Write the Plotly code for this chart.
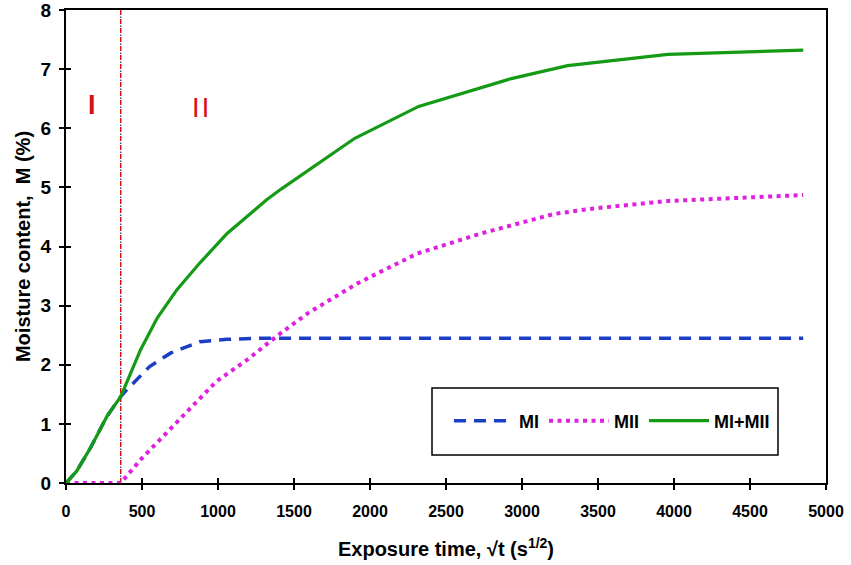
import plotly.graph_objects as go

# ---- data ----
mi_x = [0, 70, 160, 270, 360, 390, 550, 690, 880, 1060, 1300, 1550, 4850]
mi_y = [0, 0.20, 0.59, 1.13, 1.46, 1.55, 1.97, 2.20, 2.39, 2.43, 2.45, 2.45, 2.45]

mii_x = [0, 360, 500, 760, 990, 1190, 1390, 1590, 1920, 2310, 2730, 3210, 3460, 3960, 4850]
mii_y = [0, 0, 0.42, 1.10, 1.72, 2.08, 2.49, 2.87, 3.38, 3.88, 4.22, 4.55, 4.64, 4.77, 4.87]

tot_x = [0, 70, 160, 270, 360, 490, 600, 730, 880, 1060, 1320, 1420, 1900, 2320, 2930, 3300, 3960, 4850]
tot_y = [0, 0.20, 0.59, 1.13, 1.46, 2.25, 2.79, 3.27, 3.72, 4.22, 4.79, 4.98, 5.83, 6.37, 6.84, 7.06, 7.25, 7.32]

boundary_x = 360
stage_labels = ["I", "I\u200aI"]
stage_label_x = [172, 884]
stage_label_y = [6.39, 6.34]

x_ticks = list(range(0, 5001, 500))
y_ticks = list(range(0, 9))

BLUE = "#1a3fc4"
MAGENTA = "#e020e0"
GREEN = "#159a15"
RED = "#d81010"
NAVY = "#1a2a80"

fig = go.Figure()

# stage boundary line (red dashes with dark dots between)
fig.add_trace(go.Scatter(x=[boundary_x, boundary_x], y=[0, 8], mode="lines",
                         line=dict(color=RED, width=1.5, dash="5px,4px"),
                         showlegend=False, hoverinfo="skip"))
fig.add_trace(go.Scatter(x=[boundary_x, boundary_x], y=[0, 8], mode="lines",
                         line=dict(color=NAVY, width=1.2, dash="0px,6px,1.5px,1.5px"),
                         showlegend=False, hoverinfo="skip"))

fig.add_trace(go.Scatter(x=mi_x, y=mi_y, mode="lines", name="MI",
                         line=dict(color=BLUE, width=3.5, dash="12px,8px")))
fig.add_trace(go.Scatter(x=mii_x, y=mii_y, mode="lines", name="MII",
                         line=dict(color=MAGENTA, width=4, dash="4px,4.5px")))
fig.add_trace(go.Scatter(x=tot_x, y=tot_y, mode="lines", name="MI+MII",
                         line=dict(color=GREEN, width=3.2)))

# invisible trace to carry the inside-tick overlay axes
fig.add_trace(go.Scatter(x=[], y=[], xaxis="x2", yaxis="y2", showlegend=False))

for lx, ly, lt in zip(stage_label_x, stage_label_y, stage_labels):
    fig.add_annotation(x=lx, y=ly, text=lt, showarrow=False,
                       font=dict(family="Liberation Sans, Arial", size=27, color=RED,
                                 weight=700 if lt == "I" else 400))

ytick_font = dict(family="Liberation Sans, Arial", size=19, color="black", weight=700)
xtick_font = dict(family="Liberation Sans, Arial", size=16, color="black", weight=700)

fig.update_layout(
    width=851, height=565,
    margin=dict(l=66, r=25, t=10, b=82, autoexpand=False),
    paper_bgcolor="white", plot_bgcolor="white",
    showlegend=True,
    legend=dict(orientation="h", x=(449 - 66) / 760, xanchor="left",
                y=(483 - 421) / 473, yanchor="middle",
                bgcolor="rgba(0,0,0,0)", borderwidth=0, itemwidth=60,
                font=dict(family="Liberation Sans, Arial", size=18, color="black", weight=700)),
    xaxis=dict(range=[0, 5000], tickvals=x_ticks, ticktext=[str(v) for v in x_ticks],
               showgrid=False, zeroline=False, showline=True, linecolor="black",
               linewidth=2, mirror=True, ticks="outside", ticklen=5, tickwidth=1.5,
               tickcolor="black", tickfont=xtick_font, ticklabelstandoff=8,
               ticklabeloverflow="allow",
               title=dict(text="Exposure time, √t (s<sup>1/2</sup>)", standoff=23,
                          font=dict(family="Liberation Sans, Arial",
                                    size=20, color="black", weight=700))),
    yaxis=dict(range=[0, 8], tickvals=y_ticks, showgrid=False, zeroline=False,
               showline=True, linecolor="black", linewidth=2, mirror=True,
               ticks="outside", ticklen=5, tickwidth=1.5, tickcolor="black",
               tickfont=ytick_font, ticklabelstandoff=4, ticklabeloverflow="allow",
               title=dict(text="Moisture content,  M (%)", standoff=5,
                          font=dict(family="Liberation Sans, Arial", size=20,
                                    color="black", weight=700))),
    xaxis2=dict(range=[0, 5000], tickvals=x_ticks, overlaying="x", side="bottom",
                anchor="y", showgrid=False, zeroline=False, showline=False,
                ticks="inside", ticklen=5, tickwidth=1.5, tickcolor="black",
                showticklabels=False),
    yaxis2=dict(range=[0, 8], tickvals=y_ticks, overlaying="y", side="left",
                anchor="x", showgrid=False, zeroline=False, showline=False,
                ticks="inside", ticklen=5, tickwidth=1.5, tickcolor="black",
                showticklabels=False),
)

# legend frame
fig.add_shape(type="rect", xref="paper", yref="paper",
              x0=(432 - 66) / 760, x1=(778 - 66) / 760,
              y0=(483 - 455) / 473, y1=(483 - 388) / 473,
              line=dict(color="black", width=1.5), fillcolor="rgba(0,0,0,0)")

fig.write_html("out.html", config={"displayModeBar": False},
               post_script="document.body.style.margin='0';document.body.style.overflow='hidden';")
